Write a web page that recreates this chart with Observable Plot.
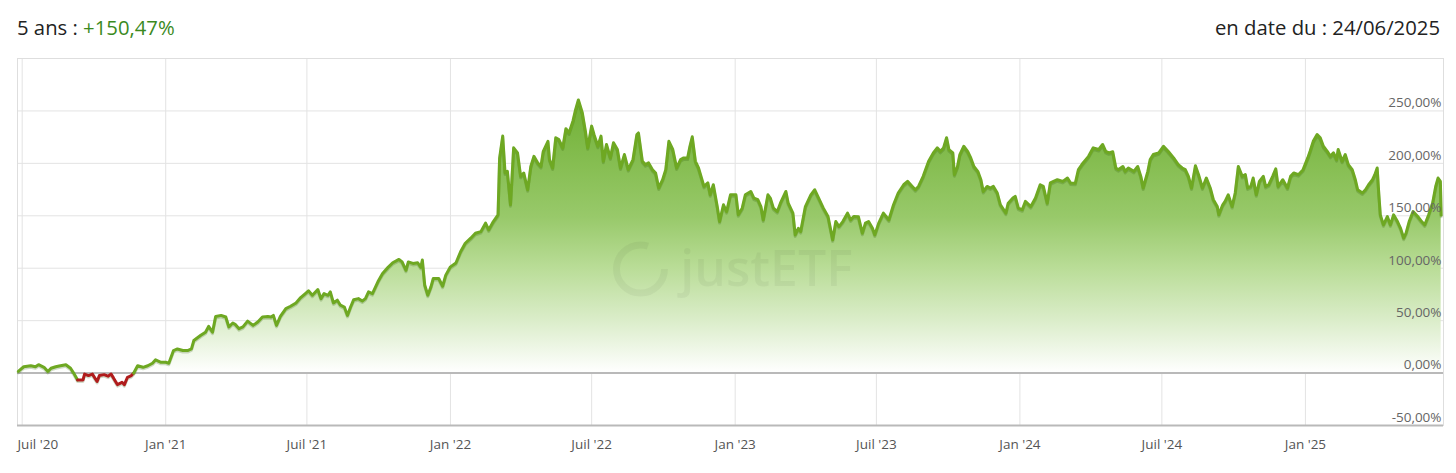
<!DOCTYPE html>
<html><head><meta charset="utf-8">
<script src="https://cdn.jsdelivr.net/npm/d3@7"></script>
<script src="https://cdn.jsdelivr.net/npm/@observablehq/plot@0.6"></script>
<style>
body{margin:0;background:#fff;font-family:"Open Sans",sans-serif;}
#header{height:54px;display:flex;justify-content:space-between;align-items:center;padding:0 16px 0 17px;font-size:20.3px;color:#222;box-sizing:border-box;}
#perf{color:#3b8a1e;}
#chart svg{display:block;}
</style></head><body>
<div id="header"><div><span id="periode"></span><span id="perf"></span></div><div id="datetxt"></div></div>
<div id="chart"></div>
<script>
const titrePeriode = "5 ans : ";
const titrePerf = "+150,47%";
const titreDate = "en date du : 24/06/2025";

const dates = [
"2020-06-26","2020-07-03","2020-07-12","2020-07-18","2020-07-22","2020-07-29","2020-08-03","2020-08-07","2020-08-13","2020-08-19",
"2020-08-26","2020-09-01","2020-09-05","2020-09-10","2020-09-17","2020-09-19","2020-09-24","2020-09-29","2020-10-05","2020-10-08",
"2020-10-14","2020-10-19","2020-10-23","2020-10-26","2020-10-31","2020-11-06","2020-11-09","2020-11-13","2020-11-18","2020-11-21",
"2020-11-26","2020-12-03","2020-12-09","2020-12-15","2020-12-19","2020-12-26","2021-01-01","2021-01-05","2021-01-11","2021-01-16",
"2021-01-23","2021-01-29","2021-02-03","2021-02-06","2021-02-15","2021-02-21","2021-02-25","2021-03-02","2021-03-06","2021-03-13",
"2021-03-19","2021-03-23","2021-03-28","2021-03-31","2021-04-05","2021-04-10","2021-04-16","2021-04-23","2021-04-29","2021-05-05",
"2021-05-12","2021-05-16","2021-05-19","2021-05-23","2021-05-28","2021-06-04","2021-06-10","2021-06-17","2021-06-23","2021-06-29",
"2021-07-03","2021-07-08","2021-07-15","2021-07-19","2021-07-23","2021-07-28","2021-07-31","2021-08-04","2021-08-09","2021-08-13",
"2021-08-18","2021-08-22","2021-08-26","2021-08-30","2021-09-05","2021-09-10","2021-09-14","2021-09-18","2021-09-23","2021-09-30",
"2021-10-06","2021-10-13","2021-10-19","2021-10-27","2021-10-31","2021-11-05","2021-11-08","2021-11-14","2021-11-20","2021-11-24",
"2021-11-26","2021-11-29","2021-12-03","2021-12-07","2021-12-10","2021-12-17","2021-12-22","2021-12-26","2022-01-01","2022-01-08",
"2022-01-14","2022-01-20","2022-01-27","2022-02-02","2022-02-09","2022-02-15","2022-02-19","2022-02-25","2022-03-03","2022-03-05",
"2022-03-09","2022-03-12","2022-03-15","2022-03-19","2022-03-23","2022-03-28","2022-04-01","2022-04-05","2022-04-10","2022-04-14",
"2022-04-18","2022-04-23","2022-04-27","2022-04-30","2022-05-06","2022-05-08","2022-05-12","2022-05-16","2022-05-20","2022-05-25",
"2022-05-29","2022-06-02","2022-06-07","2022-06-10","2022-06-14","2022-06-19","2022-06-23","2022-06-26","2022-07-01","2022-07-04",
"2022-07-09","2022-07-13","2022-07-16","2022-07-20","2022-07-25","2022-07-29","2022-08-03","2022-08-07","2022-08-12","2022-08-17",
"2022-08-23","2022-08-28","2022-08-30","2022-09-04","2022-09-08","2022-09-12","2022-09-17","2022-09-21","2022-09-25","2022-09-30",
"2022-10-04","2022-10-08","2022-10-13","2022-10-18","2022-10-23","2022-10-27","2022-11-01","2022-11-04","2022-11-07","2022-11-11",
"2022-11-15","2022-11-22","2022-11-27","2022-11-30","2022-12-04","2022-12-09","2022-12-12","2022-12-17","2022-12-21","2022-12-26",
"2023-01-02","2023-01-05","2023-01-10","2023-01-14","2023-01-21","2023-01-25","2023-01-30","2023-02-03","2023-02-06","2023-02-12",
"2023-02-15","2023-02-19","2023-02-24","2023-02-28","2023-03-07","2023-03-10","2023-03-16","2023-03-19","2023-03-23","2023-03-26",
"2023-04-01","2023-04-08","2023-04-13","2023-04-18","2023-04-24","2023-04-30","2023-05-06","2023-05-10","2023-05-14","2023-05-19",
"2023-05-25","2023-05-29","2023-06-02","2023-06-08","2023-06-13","2023-06-17","2023-06-21","2023-06-26","2023-06-29","2023-07-04",
"2023-07-10","2023-07-17","2023-07-23","2023-07-29","2023-08-05","2023-08-10","2023-08-16","2023-08-20","2023-08-24","2023-08-30",
"2023-09-06","2023-09-12","2023-09-17","2023-09-21","2023-09-25","2023-09-29","2023-10-02","2023-10-07","2023-10-09","2023-10-13",
"2023-10-16","2023-10-21","2023-10-26","2023-10-30","2023-11-03","2023-11-08","2023-11-12","2023-11-15","2023-11-20","2023-11-24",
"2023-11-28","2023-12-03","2023-12-07","2023-12-14","2023-12-17","2023-12-23","2023-12-26","2023-12-30","2024-01-04","2024-01-08",
"2024-01-15","2024-01-21","2024-01-27","2024-01-31","2024-02-05","2024-02-09","2024-02-18","2024-02-25","2024-03-02","2024-03-06",
"2024-03-12","2024-03-16","2024-03-22","2024-03-29","2024-04-04","2024-04-11","2024-04-16","2024-04-20","2024-04-24","2024-04-29",
"2024-05-03","2024-05-06","2024-05-12","2024-05-15","2024-05-19","2024-05-26","2024-05-31","2024-06-04","2024-06-07","2024-06-13",
"2024-06-16","2024-06-20","2024-06-27","2024-07-03","2024-07-09","2024-07-16","2024-07-22","2024-07-27","2024-07-31","2024-08-04",
"2024-08-08","2024-08-13","2024-08-17","2024-08-22","2024-08-27","2024-09-01","2024-09-05","2024-09-10","2024-09-12","2024-09-17",
"2024-09-20","2024-09-24","2024-09-29","2024-10-03","2024-10-07","2024-10-12","2024-10-16","2024-10-19","2024-10-23","2024-10-26",
"2024-10-30","2024-11-03","2024-11-08","2024-11-11","2024-11-15","2024-11-20","2024-11-24","2024-11-27","2024-12-03","2024-12-09",
"2024-12-13","2024-12-17","2024-12-23","2024-12-29","2025-01-04","2025-01-07","2025-01-11","2025-01-16","2025-01-20","2025-01-24",
"2025-01-29","2025-02-02","2025-02-06","2025-02-10","2025-02-12","2025-02-17","2025-02-21","2025-02-25","2025-03-02","2025-03-06",
"2025-03-09","2025-03-15","2025-03-19","2025-03-23","2025-03-28","2025-03-31","2025-04-03","2025-04-05","2025-04-07","2025-04-11",
"2025-04-16","2025-04-20","2025-04-24","2025-04-29","2025-05-03","2025-05-07","2025-05-10","2025-05-14","2025-05-19","2025-05-25",
"2025-05-30","2025-06-03","2025-06-08","2025-06-13","2025-06-17","2025-06-20","2025-06-23","2025-06-24"
];

const valeurs = [
1.7,6,7,6,8,5.5,1.5,4.6,6,7,
8,4.6,0,-6.5,-6.5,-1,-2.4,-1,-8,-2.4,
-1.5,-3,-1,-4.6,-11,-8.8,-11,-4,-2.4,0,
7,5.5,7,9.4,12.6,10.3,10.3,9.4,21.5,23,
21.5,21.5,23,31,36,39,44.5,39,54,55,
53.5,44,47.7,46.5,42.3,44,49.6,45.5,48.7,53.5,
54,53.5,55,45.5,54,61.5,63.7,66.9,72,75.8,
78.4,74.2,79.7,71,75.8,74.2,77.4,66.9,69.5,64.7,
63,55,63,70,71,68.8,71,77.4,75.8,87,
95,100.8,105.2,108.4,106,98,106,104.6,105.2,100.8,
107.8,84,74.2,82.2,90.2,90.2,82.8,93.4,101.3,105,
115.7,123.8,128.6,133.4,134.9,143,136.5,144.5,150.9,205,
226,190.8,192.4,160.5,214.8,210,187.6,190.8,174.8,197,
206.7,200.4,197,211.5,221,203.6,195.6,224.4,222.7,214.8,
233,229,240.3,249.9,260.4,248.3,230.7,214.8,235.5,227.5,
216.3,226,202,218,205.2,219.6,213.2,195.6,208.4,194,
203.6,227.5,229,202,198.8,200.4,194,190.8,176.5,184.4,
194,221,213.2,195.6,203.6,205.2,205,216.3,225.3,202,
195.6,178,181.3,170,179.6,158.8,144.5,160.5,154,170,
170,150.9,157.3,170,173.2,166.9,165.3,158.8,146,170,
166.9,157.3,154,162,173.2,162,152.5,131.7,138,134.9,
158.8,170,174.8,166.9,157.3,149.3,127,144.5,139.7,144.5,
152.5,146,149.3,149,133.4,143,144.5,138,131.7,143,
152.5,146,160.5,171.7,179.6,182.8,178,174.8,178,187.6,
202,210,214.8,211.5,214.5,224.4,213.2,210,189.2,197,
208.4,216.3,211.5,205.2,197,192.4,184.4,173.2,178,176.5,
178,171.7,160.5,152.5,162,166.9,168.5,157.3,155.7,163.7,
158.8,166.9,179.6,178,162,181.3,184.4,182.8,186,181.3,
181,194,200.4,206.7,214.8,213.2,218,211.5,210,211,
195.6,194,197,192.4,195.6,192.4,197,187.6,176.5,192.4,
203.6,208.4,210,216.3,211.5,205.2,198.8,195.6,194,187.6,
176.5,197.8,189.2,176.5,186,176.5,165.3,158.8,150.9,160.5,
163.7,170,158.8,171.7,197,187.6,189.2,176.5,178,186,
170,182.8,187.6,178,179.6,187.6,194.7,178,184.4,176.5,
187.6,190.8,189.2,194,205.2,211.5,221,227.5,224.4,216.3,
211.5,206.7,210,203.6,213.2,202,208.4,198.8,194,184.4,
174.8,171.7,174.8,179.6,184.4,189.2,195.6,171.7,150.9,141.3,
149.3,141.3,150.9,144.5,138,128.6,133.4,144.5,154,149.3,
144.5,141.3,150.9,162,178,186,182.8,150.47
];

const ticksX = ["2020-07-01","2021-01-01","2021-07-01","2022-01-01","2022-07-01","2023-01-01","2023-07-01","2024-01-01","2024-07-01","2025-01-01"].map(d => new Date(d));
const etiquettesX = ["Juil '20","Jan '21","Juil '21","Jan '22","Juil '22","Jan '23","Juil '23","Jan '24","Juil '24","Jan '25"];
const ticksY = [-50, 0, 50, 100, 150, 200, 250];
const etiquettesY = ["-50,00%","0,00%","50,00%","100,00%","150,00%","200,00%","250,00%"];
const domaineX = [new Date("2020-06-25"), new Date("2025-06-27")];
const domaineY = [-50, 300];
const filigrane = "justETF";

document.getElementById("periode").textContent = titrePeriode;
document.getElementById("perf").textContent = titrePerf;
document.getElementById("datetxt").textContent = titreDate;

const data = dates.map((d, i) => ({date: new Date(d), v: valeurs[i]}));
const fmtX = d => etiquettesX[ticksX.findIndex(t => +t === +d)];
const fmtY = d => etiquettesY[ticksY.indexOf(d)];

const defs = () => {
  const g = d3.create("svg:defs");
  const lg = g.append("linearGradient").attr("id", "gradVert")
    .attr("x1", 0).attr("y1", 0).attr("x2", 0).attr("y2", 1);
  [[0, "rgb(112,176,52)"], [0.43, "rgb(152,201,106)"], [0.62, "rgb(186,221,152)"], [0.81, "rgb(219,237,202)"], [1, "rgb(255,255,255)"]]
    .forEach(([o, c]) => lg.append("stop").attr("offset", o).attr("stop-color", c));
  return g.node();
};

const plot = Plot.plot({
  width: 1456,
  height: 419,
  marginTop: 4,
  marginBottom: 48,
  marginLeft: 17,
  marginRight: 13,
  style: {fontFamily: '"Open Sans", sans-serif', fontSize: "13.5px", color: "#666", background: "transparent"},
  x: {type: "utc", domain: domaineX},
  y: {domain: domaineY},
  marks: [
    defs,
    Plot.gridX(ticksX, {stroke: "#e3e3e3", strokeOpacity: 1}),
    Plot.gridY(ticksY, {stroke: "#e3e3e3", strokeOpacity: 1}),
    Plot.frame({stroke: "#dedede"}),
    Plot.areaY(data, {x: "date", y: d => Math.max(0, d.v), fill: "url(#gradVert)"}),
    Plot.text([filigrane], {text: d => d, frameAnchor: "middle", dx: 36, dy: 28, fontSize: 50, fontWeight: 600, fill: "#000", fillOpacity: 0.045}),
    Plot.dot([filigrane], {frameAnchor: "middle", dx: -90, dy: 27, r: 24, fill: "none", stroke: "#000", strokeOpacity: 0.045, strokeWidth: 7, strokeDasharray: "120 31"}),
    Plot.ruleY([0, -50], {stroke: "#b9b9b9", strokeWidth: 2}),
    Plot.lineY(data, {x: "date", y: "v", z: null, stroke: "#2f5a0a", strokeOpacity: 0.22, strokeWidth: 3, dy: 1.5, strokeLinejoin: "round"}),
    Plot.lineY(data, {x: "date", y: "v", z: null, stroke: d => d.v < 0 ? "#b01c1c" : "#6ea822", strokeWidth: 3, strokeLinejoin: "round", strokeLinecap: "round"}),
    Plot.axisY({anchor: "right", ticks: ticksY, tickFormat: fmtY, tickSize: 0, tickPadding: 0, textAnchor: "end", dx: -2, dy: -8, fill: "#666", label: null}),
    Plot.axisX({ticks: ticksX.slice(1), tickFormat: fmtX, tickSize: 0, tickPadding: 14, fill: "#555", label: null}),
    Plot.axisX({ticks: ticksX.slice(0, 1), tickFormat: fmtX, tickSize: 0, tickPadding: 14, textAnchor: "start", dx: -4.7, fill: "#555", label: null})
  ]
});
document.getElementById("chart").appendChild(plot);
</script>
</body></html>
